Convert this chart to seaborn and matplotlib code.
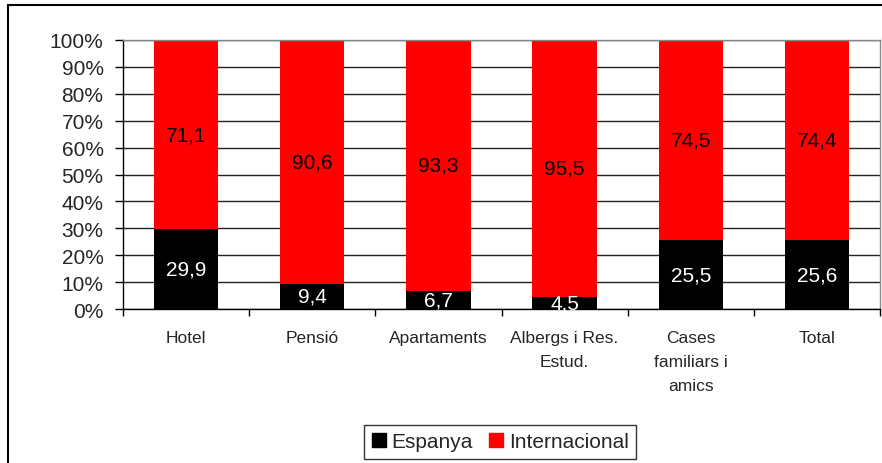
"""
plot.py

Stacked 100% bars: Espanya vs Internacional by accommodation type.
"""

import matplotlib.pyplot as plt
import pandas as pd
import seaborn as sns
from matplotlib.patches import Rectangle
from matplotlib.ticker import FixedLocator, PercentFormatter

categories = [
    "Hotel",
    "Pensió",
    "Apartaments",
    "Albergs i Res.\nEstud.",
    "Cases\nfamiliars i\namics",
    "Total",
]
espanya = [29.9, 9.4, 6.7, 4.5, 25.5, 25.6]
internacional = [71.1, 90.6, 93.3, 95.5, 74.5, 74.4]

sns.set_theme(style="white")
plt.rcParams["font.family"] = ["Liberation Sans", "DejaVu Sans"]

df = pd.DataFrame({
    "Categoria": categories,
    "Espanya": espanya,
    "Internacional": internacional,
})
df["total"] = df["Espanya"] + df["Internacional"]
df["esp_pct"] = df["Espanya"] / df["total"] * 100
df["full"] = 100.0

fig = plt.figure(figsize=(8.82, 4.64), dpi=100)
ax = fig.add_axes([123 / 882, 1 - 310 / 464, 757 / 882, 269 / 464])

# red full bar, then black share on top of it
sns.barplot(data=df, x="Categoria", y="full", color="#ff0000",
            width=0.51, saturation=1, linewidth=0, ax=ax, zorder=3)
sns.barplot(data=df, x="Categoria", y="esp_pct", color="#000000",
            width=0.51, saturation=1, linewidth=0, ax=ax, zorder=3)

ax.set_ylim(0, 100)
ax.set_xlim(-0.5, len(categories) - 0.5)
ax.set_xlabel("")
ax.set_ylabel("")

# value labels
for i, row in df.iterrows():
    ax.text(i, row["esp_pct"] / 2, f"{row['Espanya']:.1f}".replace(".", ","),
            ha="center", va="center", color="white", fontsize=15, zorder=5)
    mid = row["esp_pct"] + (100 - row["esp_pct"]) / 2
    ax.text(i, mid, f"{row['Internacional']:.1f}".replace(".", ","),
            ha="center", va="center", color="black", fontsize=15, zorder=5)

# axes styling
ax.yaxis.set_major_locator(FixedLocator(range(0, 101, 10)))
ax.yaxis.set_major_formatter(PercentFormatter(decimals=0))
ax.tick_params(axis="y", labelsize=15, length=6, width=1, color="black",
               left=True, pad=8)
ax.tick_params(axis="x", which="major", labelsize=12.5, length=0, pad=15)
ax.xaxis.set_minor_locator(FixedLocator([x - 0.5 for x in range(len(categories) + 1)]))
ax.tick_params(axis="x", which="minor", bottom=True, length=5, width=1,
               color="black")
for lab in ax.get_xticklabels():
    lab.set_linespacing(1.75)
    lab.set_va("top")

ax.grid(axis="y", color="#222222", linewidth=1, zorder=0)
ax.set_axisbelow(True)
ax.spines["left"].set_color("black")
ax.spines["bottom"].set_color("black")
ax.spines["right"].set_color("#888888")
ax.spines["top"].set_color("#888888")
for s in ax.spines.values():
    s.set_linewidth(1)
    s.set_zorder(4)

# legend
handles = [
    plt.Line2D([], [], marker="s", linestyle="", color="#000000", markersize=10),
    plt.Line2D([], [], marker="s", linestyle="", color="#ff0000", markersize=10),
]
leg = fig.legend(handles, ["Espanya", "Internacional"], loc="center",
                 bbox_to_anchor=(500 / 882, 1 - 443 / 464), ncol=2,
                 fontsize=15, frameon=True, fancybox=False, edgecolor="black",
                 handlelength=0.7, handletextpad=0.25, columnspacing=0.8,
                 borderpad=0.35, borderaxespad=0)
leg.get_frame().set_linewidth(1)

# outer chart frame
fig.patches.append(Rectangle((8 / 882, -0.05), 1.05, 1 - 6 / 464 + 0.05,
                             transform=fig.transFigure, fill=False,
                             edgecolor="black", linewidth=1.5))

fig.savefig("out.png", dpi=100)
